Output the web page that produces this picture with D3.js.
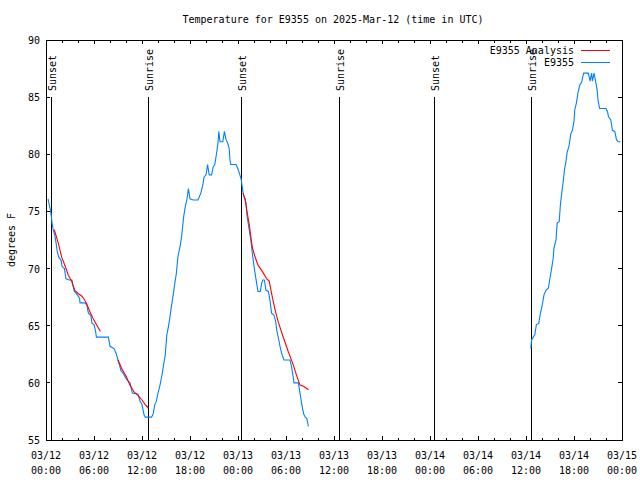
<!DOCTYPE html>
<html><head><meta charset="utf-8">
<script src="https://cdn.jsdelivr.net/npm/d3@7"></script>
<style>body{margin:0;background:#fff}svg{display:block}text{font-family:"DejaVu Sans Mono",monospace;font-size:10px;fill:#000}</style>
</head><body>
<script>
// hours after 2025-03-12 00:00 UTC
const obs1Hours=[0.25,0.5,0.65,0.75,0.9,1.1,1.25,1.4,1.6,1.9,2.0,2.3,2.5,2.9,3.25,3.4,3.55,3.8,4.2,4.25,4.9,5.1,5.3,5.6,5.75,6.0,6.2,6.3,7.8,8.0,8.5,8.8,9.0,9.2,9.4,9.6,9.9,10.2,10.5,10.8,11.5,11.75,12.0,12.25,12.4,13.2,13.4,13.6,13.8,14.0,14.25,14.5,14.7,14.9,15.1,15.3,15.5,15.7,15.9,16.1,16.3,16.5,16.75,16.95,17.2,17.4,17.6,17.8,18.0,18.4,19.0,19.35,19.6,19.75,20.0,20.2,20.4,20.7,20.9,21.1,21.3,21.5,21.6,21.75,22.1,22.3,22.5,22.7,22.9,23.0,23.1,23.75,23.95,24.15,24.4,24.6,24.75,25.0,25.15,25.4,25.6,25.8,26.0,26.2,26.4,26.5,26.8,26.95,27.1,27.3,27.5,27.8,28.0,28.2,28.5,28.7,28.85,29.0,29.25,29.45,29.75,30.5,30.7,30.9,31.0,31.55,31.75,31.95,32.2,32.4,32.6,32.8];
const obs1Temps=[76.1,75.3,74.7,74.0,73.4,72.9,72.3,71.5,71.0,70.7,70.2,70.0,69.1,69.0,69.0,68.4,68.0,67.8,67.4,67.0,67.0,66.8,66.1,65.9,65.2,65.1,64.5,64.0,64.0,63.2,63.0,62.5,62.0,61.5,61.0,60.9,60.5,60.2,60.0,59.1,59.0,58.4,58.1,57.2,57.0,57.0,57.3,58.1,58.4,59.1,59.8,60.7,61.6,62.4,64.2,64.9,65.8,66.8,67.7,68.7,69.6,71.1,71.9,72.8,74.5,75.4,76.0,77.0,76.1,76.0,76.0,76.6,77.3,78.0,78.2,79.1,78.2,78.2,78.9,79.1,80.0,81.0,82.0,81.1,81.1,82.0,81.3,81.0,80.5,79.5,79.1,79.1,78.8,78.4,77.8,76.8,76.3,75.7,74.5,73.4,72.5,71.3,70.2,69.3,68.4,68.0,68.0,68.7,69.0,69.0,68.1,68.0,67.2,66.1,65.9,65.4,64.6,64.1,63.2,62.6,62.0,62.0,61.4,60.5,60.0,60.0,59.1,58.2,57.3,57.0,56.9,56.2];
const obs2Hours=[60.6,60.7,60.9,61.1,61.3,61.6,61.8,62.0,62.25,62.5,62.8,63.0,63.2,63.4,63.5,63.75,63.9,64.15,64.3,64.5,64.65,64.8,65.0,65.15,65.4,65.6,65.8,66.0,66.1,66.3,66.5,66.75,66.95,67.2,67.8,68.0,68.2,68.3,68.5,68.75,68.9,69.0,69.2,70.0,70.2,70.3,70.6,70.8,71.1,71.3,71.5,71.8];
const obs2Temps=[63.0,63.75,64.0,64.2,65.1,65.2,66.1,66.7,67.7,68.1,68.3,69.2,70.0,70.9,71.8,72.5,74.0,74.1,75.6,76.8,77.6,78.6,79.4,80.2,80.8,81.8,82.1,82.9,83.9,84.5,85.4,86.1,86.3,87.1,87.1,86.4,87.1,86.4,87.1,86.2,85.6,84.75,84.0,84.0,83.7,83.3,83.0,82.1,82.0,81.3,81.1,81.1];
const an1Hours=[1.04,1.54,1.96,2.4,2.8,3.2,3.6,4.04,4.46,4.8,5.1,5.5,5.9,6.3,6.8];
const an1Temps=[73.4,72.2,71.0,70.2,69.4,68.9,68.1,67.8,67.6,67.3,66.9,66.2,65.6,65.1,64.5];
const an2Hours=[9.0,9.5,10.0,10.5,11.0,11.5,12.0,12.4,12.8];
const an2Temps=[62.0,61.2,60.6,59.8,59.2,58.9,58.5,58.1,57.8];
const an3Hours=[24.6,24.9,25.1,25.4,25.6,25.8,26.1,26.5,27.0,27.6,27.9,28.2,28.6,29.0,29.7,30.3,30.9,31.3,31.75,32.2,32.8];
const an3Temps=[76.6,76.1,75.1,73.9,72.8,71.8,71.1,70.3,69.8,69.1,68.9,67.8,66.5,65.4,63.9,62.7,61.6,60.7,59.8,59.7,59.4];
const eventHours=[0.6,12.75,24.4,36.67,48.46,60.67];
const eventLabels=["Sunset","Sunrise","Sunset","Sunrise","Sunset","Sunrise"];
const yTicks=[55,60,65,70,75,80,85,90];
const legendLabels=["E9355 Analysis","E9355"];
const title="Temperature for E9355 on 2025-Mar-12 (time in UTC)";
const yLabel="degrees F";

const t0=Date.UTC(2025,2,12);
const toDate=h=>new Date(t0+h*3600000);
const W=640,H=480,L=46,R=622,T=40,B=440;
const x=d3.scaleUtc().domain([toDate(0),toDate(72)]).range([L,R]);
const y=d3.scaleLinear().domain([55,90]).range([B,T]);
const svg=d3.select("body").append("svg").attr("width",W).attr("height",H);
svg.append("rect").attr("width",W).attr("height",H).attr("fill","#fff");

const g=svg.append("g").attr("shape-rendering","crispEdges").attr("stroke","#000");
yTicks.forEach(v=>{
  g.append("line").attr("x1",L).attr("x2",L+4).attr("y1",y(v)).attr("y2",y(v));
  g.append("line").attr("x1",R-4).attr("x2",R).attr("y1",y(v)).attr("y2",y(v));
  svg.append("text").attr("x",40).attr("y",y(v)+4).attr("text-anchor","end").text(v);
});
const minor=x.ticks(d3.utcHour.every(2));
minor.forEach(d=>{
  const major=d.getUTCHours()%6===0;
  const len=major?4:2.5;
  g.append("line").attr("x1",x(d)).attr("x2",x(d)).attr("y1",B).attr("y2",B-len);
  g.append("line").attr("x1",x(d)).attr("x2",x(d)).attr("y1",T).attr("y2",T+len);
});
const fmtD=d3.utcFormat("%m/%d"),fmtH=d3.utcFormat("%H:%M");
x.ticks(d3.utcHour.every(6)).forEach(d=>{
  svg.append("text").attr("x",x(d)).attr("y",459).attr("text-anchor","middle").text(fmtD(d));
  svg.append("text").attr("x",x(d)).attr("y",474).attr("text-anchor","middle").text(fmtH(d));
});
eventHours.forEach((h,i)=>{
  const xx=Math.round(x(toDate(h)))+0.5;
  svg.append("line").attr("x1",xx).attr("x2",xx).attr("y1",97).attr("y2",B).attr("stroke","#000").attr("shape-rendering","crispEdges");
  svg.append("text").attr("transform",`translate(${xx+4},91) rotate(-90)`).attr("text-anchor","start").text(eventLabels[i]);
});
svg.append("rect").attr("x",L+0.5).attr("y",T+0.5).attr("width",R-L).attr("height",B-T).attr("fill","none").attr("stroke","#000").attr("shape-rendering","crispEdges");

const line=d3.line().x(d=>x(toDate(d[0]))).y(d=>y(d[1]));
const zip=(a,b)=>a.map((v,i)=>[v,b[i]]);
const blue="#0080ff",red="#ff0000";
[[obs1Hours,obs1Temps],[obs2Hours,obs2Temps]].forEach(([h,t])=>{
  svg.append("path").attr("d",line(zip(h,t))).attr("fill","none").attr("stroke",blue).attr("stroke-width",1.1);
});
[[an1Hours,an1Temps],[an2Hours,an2Temps],[an3Hours,an3Temps]].forEach(([h,t])=>{
  svg.append("path").attr("d",line(zip(h,t))).attr("fill","none").attr("stroke",red).attr("stroke-width",1.1);
});
[[legendLabels[0],red,50],[legendLabels[1],blue,62]].forEach(([lab,c,yy])=>{
  svg.append("text").attr("x",574).attr("y",yy+4).attr("text-anchor","end").text(lab);
  svg.append("line").attr("x1",581).attr("x2",610).attr("y1",yy+0.5).attr("y2",yy+0.5).attr("stroke",c).attr("shape-rendering","crispEdges");
});
svg.append("text").attr("x",333).attr("y",23).attr("text-anchor","middle").text(title);
svg.append("text").attr("transform","translate(15,240) rotate(-90)").attr("text-anchor","middle").text(yLabel);
</script>
</body></html>
